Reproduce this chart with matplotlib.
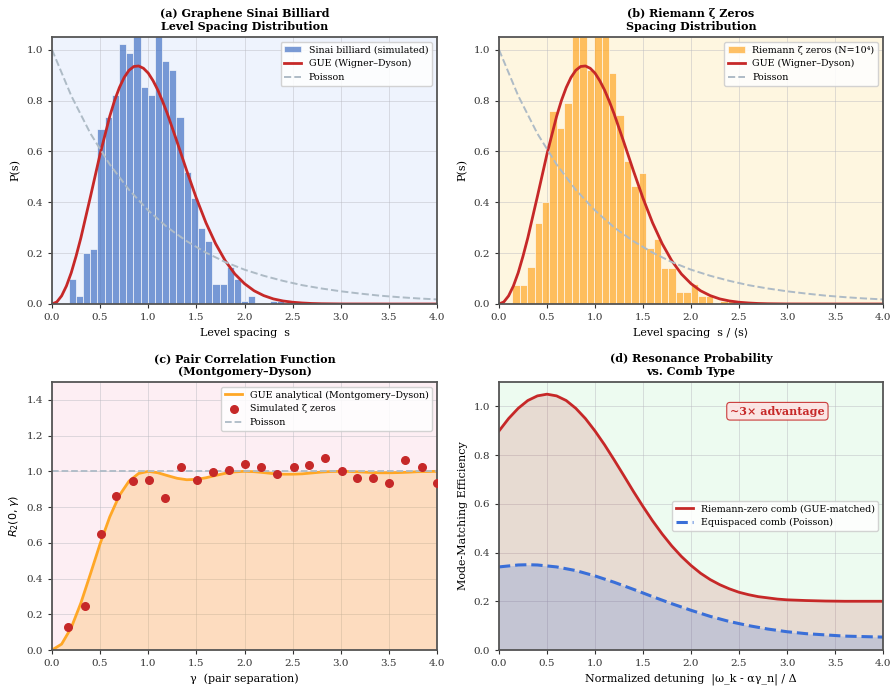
import numpy as np
import matplotlib
matplotlib.use("Agg")
import matplotlib.pyplot as plt

plt.rcParams['font.family'] = 'serif'
plt.rcParams['font.serif'] = ['DejaVu Serif']
plt.rcParams['mathtext.fontset'] = 'dejavusans'

# ---- (a) Sinai billiard histogram (density) ----
a_bin_start = 0.174
a_bin_width = 0.0746
a_heights = [0.10, 0.03, 0.20, 0.216, 0.688, 0.737, 0.82, 1.022, 0.988, 1.10,
             0.853, 0.82, 1.10, 0.954, 0.921, 0.737, 0.52, 0.416, 0.30, 0.249,
             0.08, 0.08, 0.145, 0.098, 0.013, 0.031, 0.0, 0.0, 0.011, 0.011]

# ---- (b) Riemann zeros histogram (density) ----
b_bin_start = 0.139
b_bin_width = 0.0774
b_heights = [0.076, 0.076, 0.144, 0.32, 0.40, 0.758, 0.693, 0.79, 1.10, 1.10,
             0.92, 1.10, 1.10, 0.907, 0.742, 0.563, 0.466, 0.514, 0.222, 0.255,
             0.143, 0.143, 0.046, 0.046, 0.079, 0.03, 0.03, 0.0, 0.011, 0.011]

# GUE Wigner-Dyson curve
gue_s = [0.0, 0.05, 0.1, 0.15, 0.2, 0.25, 0.3, 0.4, 0.5, 0.6, 0.65, 0.7, 0.75, 0.8,
         0.85, 0.9, 0.95, 1.0, 1.05, 1.1, 1.15, 1.2, 1.3, 1.4, 1.5, 1.6, 1.7, 1.8,
         1.9, 2.0, 2.1, 2.2, 2.3, 2.4, 2.5, 2.6, 2.7, 2.8, 3.0, 3.5, 4.0]
gue_p = [0.0, 0.008, 0.032, 0.071, 0.123, 0.188, 0.260, 0.423, 0.590, 0.738, 0.800,
         0.851, 0.891, 0.919, 0.934, 0.936, 0.927, 0.908, 0.878, 0.841, 0.796,
         0.747, 0.637, 0.524, 0.416, 0.319, 0.237, 0.170, 0.118, 0.080, 0.052,
         0.033, 0.020, 0.012, 0.007, 0.004, 0.002, 0.001, 0.0002, 0.0, 0.0]

# Poisson curve
poi_s = [0.0, 0.2, 0.4, 0.6, 0.8, 1.0, 1.2, 1.4, 1.6, 1.8, 2.0, 2.2, 2.4, 2.6,
         2.8, 3.0, 3.2, 3.4, 3.6, 3.8, 4.0]
poi_p = [1.0, 0.819, 0.670, 0.549, 0.449, 0.368, 0.301, 0.247, 0.202, 0.165,
         0.135, 0.111, 0.091, 0.074, 0.061, 0.050, 0.041, 0.033, 0.027, 0.022, 0.018]

# ---- (c) pair correlation ----
r2_x = [0.0, 0.1, 0.2, 0.3, 0.4, 0.5, 0.6, 0.7, 0.8, 0.9, 1.0, 1.1, 1.2, 1.3,
        1.4, 1.5, 1.6, 1.7, 1.8, 1.9, 2.0, 2.1, 2.2, 2.3, 2.4, 2.5, 2.6, 2.7,
        2.8, 2.9, 3.0, 3.1, 3.2, 3.3, 3.4, 3.5, 3.6, 3.7, 3.8, 3.9, 4.0]
r2_y = [0.0, 0.033, 0.125, 0.263, 0.427, 0.595, 0.745, 0.865, 0.945, 0.988,
        1.0, 0.992, 0.976, 0.961, 0.953, 0.955, 0.964, 0.977, 0.989, 0.997,
        1.0, 0.998, 0.993, 0.987, 0.984, 0.984, 0.986, 0.991, 0.996, 0.999,
        1.0, 0.999, 0.997, 0.994, 0.992, 0.992, 0.993, 0.995, 0.998, 0.999, 1.0]
zeta_x = [0.17, 0.34, 0.51, 0.67, 0.84, 1.01, 1.17, 1.34, 1.51, 1.67, 1.84, 2.01,
          2.17, 2.34, 2.51, 2.67, 2.84, 3.01, 3.17, 3.34, 3.50, 3.67, 3.84, 4.00]
zeta_y = [0.127, 0.246, 0.648, 0.864, 0.946, 0.950, 0.853, 1.023, 0.954, 0.999,
          1.010, 1.040, 1.025, 0.984, 1.023, 1.038, 1.077, 1.002, 0.965, 0.963,
          0.933, 1.064, 1.023, 0.935]

# ---- (d) mode-matching efficiency ----
det_x = [0.0, 0.1, 0.2, 0.3, 0.4, 0.5, 0.6, 0.7, 0.8, 0.9, 1.0, 1.1, 1.2, 1.3,
         1.4, 1.5, 1.6, 1.7, 1.8, 1.9, 2.0, 2.1, 2.2, 2.3, 2.4, 2.5, 2.6, 2.7,
         2.8, 2.9, 3.0, 3.2, 3.4, 3.6, 3.8, 4.0]
riemann_eff = [0.899, 0.950, 0.992, 1.024, 1.043, 1.050, 1.043, 1.024, 0.992, 0.950,
               0.899, 0.842, 0.780, 0.716, 0.651, 0.589, 0.530, 0.476, 0.427, 0.384,
               0.347, 0.315, 0.289, 0.268, 0.251, 0.237, 0.227, 0.219, 0.214, 0.209,
               0.206, 0.203, 0.201, 0.200, 0.200, 0.200]
eq_x = [0.0, 0.2, 0.3, 0.4, 0.6, 0.8, 1.0, 1.2, 1.4, 1.6, 1.8, 2.0, 2.2, 2.4,
        2.6, 2.8, 3.0, 3.2, 3.4, 3.6, 3.8, 4.0]
equi_eff = [0.341, 0.349, 0.350, 0.349, 0.341, 0.326, 0.304, 0.278, 0.249, 0.219,
            0.190, 0.163, 0.138, 0.117, 0.100, 0.086, 0.075, 0.067, 0.062, 0.057,
            0.055, 0.053]

RED = '#c62828'
POIS = '#aebbc6'

fig = plt.figure(figsize=(8.9, 6.91), dpi=100)
W, H = 890.0, 691.0
def rect(l, r, t, b):
    return [l / W, 1 - b / H, (r - l) / W, (b - t) / H]

axA = fig.add_axes(rect(52, 437, 37, 304))
axB = fig.add_axes(rect(499, 883, 37, 304))
axC = fig.add_axes(rect(52, 437, 382, 650))
axD = fig.add_axes(rect(499, 883, 382, 650))

def style(ax, bg):
    ax.set_facecolor(bg)
    ax.grid(True, color='#b8b8c0', alpha=0.45, linewidth=0.7)
    ax.set_axisbelow(True)
    for sp in ax.spines.values():
        sp.set_color('#555555')
        sp.set_linewidth(1.3)
    ax.tick_params(labelsize=7.5, colors='#333333', length=3, width=0.8)
    ax.set_xlim(0, 4)
    ax.set_xticks([0, 0.5, 1, 1.5, 2, 2.5, 3, 3.5, 4])

leg_kw = dict(fontsize=6.8, framealpha=0.85, edgecolor='#cccccc', fancybox=True,
              handlelength=1.8)
lab_fs = 8

# (a)
style(axA, '#eef3fd')
edges = a_bin_start + a_bin_width * np.arange(len(a_heights))
hb = axA.bar(edges, a_heights, width=a_bin_width, align='edge', color='#4472c4', alpha=0.7,
             edgecolor='white', linewidth=0.6, label='Sinai billiard (simulated)')
hg, = axA.plot(gue_s, gue_p, color=RED, lw=2.0, label='GUE (Wigner\u2013Dyson)')
hp, = axA.plot(poi_s, poi_p, color=POIS, lw=1.4, ls='--', label='Poisson')
axA.set_ylim(0, 1.05)
axA.set_xlabel('Level spacing  s', fontsize=lab_fs)
axA.set_ylabel('P(s)', fontsize=lab_fs)
axA.set_title('(a) Graphene Sinai Billiard\nLevel Spacing Distribution',
              fontsize=8, fontweight='bold', pad=5)
axA.legend(handles=[hb, hg, hp], loc='upper right', **leg_kw)

# (b)
style(axB, '#fef6e0')
edges = b_bin_start + b_bin_width * np.arange(len(b_heights))
hb = axB.bar(edges, b_heights, width=b_bin_width, align='edge', color='#ffa726', alpha=0.7,
             edgecolor='white', linewidth=0.6, label='Riemann \u03b6 zeros (N=10\u2074)')
hg, = axB.plot(gue_s, gue_p, color=RED, lw=2.0, label='GUE (Wigner\u2013Dyson)')
hp, = axB.plot(poi_s, poi_p, color=POIS, lw=1.4, ls='--', label='Poisson')
axB.set_ylim(0, 1.05)
axB.set_xlabel('Level spacing  s / \u27e8s\u27e9', fontsize=lab_fs)
axB.set_ylabel('P(s)', fontsize=lab_fs)
axB.set_title('(b) Riemann \u03b6 Zeros\nSpacing Distribution',
              fontsize=8, fontweight='bold', pad=5)
axB.legend(handles=[hb, hg, hp], loc='upper right', **leg_kw)

# (c)
style(axC, '#fdeef3')
axC.fill_between(r2_x, r2_y, 0, color='#ffa726', alpha=0.25, lw=0)
axC.plot(r2_x, r2_y, color='#ffa726', lw=2.0, label='GUE analytical (Montgomery\u2013Dyson)')
axC.scatter(zeta_x, zeta_y, s=30, color=RED, zorder=5, label='Simulated \u03b6 zeros')
axC.axhline(1.0, color=POIS, lw=1.3, ls='--', label='Poisson')
axC.set_ylim(0, 1.5)
axC.set_yticks([0, 0.2, 0.4, 0.6, 0.8, 1.0, 1.2, 1.4])
axC.set_xlabel('\u03b3  (pair separation)', fontsize=lab_fs)
axC.set_ylabel(r'$R_2(0,\gamma)$', fontsize=lab_fs)
axC.set_title('(c) Pair Correlation Function\n(Montgomery\u2013Dyson)',
              fontsize=8, fontweight='bold', pad=5)
axC.legend(loc='upper right', **leg_kw)

# (d)
style(axD, '#edfbf0')
axD.fill_between(det_x, riemann_eff, 0, color=RED, alpha=0.15, lw=0)
axD.fill_between(eq_x, equi_eff, 0, color='#3a6fd8', alpha=0.2, lw=0)
axD.plot(det_x, riemann_eff, color=RED, lw=2.0, label='Riemann-zero comb (GUE-matched)')
axD.plot(eq_x, equi_eff, color='#3a6fd8', lw=2.2, ls='--', label='Equispaced comb (Poisson)')
axD.set_ylim(0, 1.1)
axD.set_yticks([0, 0.2, 0.4, 0.6, 0.8, 1.0])
axD.set_xlabel('Normalized detuning  |\u03c9_k - \u03b1\u03b3_n| / \u0394', fontsize=lab_fs)
axD.set_ylabel('Mode-Matching Efficiency', fontsize=lab_fs)
axD.set_title('(d) Resonance Probability\nvs. Comb Type',
              fontsize=8, fontweight='bold', pad=5)
axD.legend(loc='center right', bbox_to_anchor=(1.0, 0.5), **leg_kw)
axD.text(2.9, 0.98, '~3\u00d7 advantage', color=RED, fontsize=8, fontweight='bold',
         ha='center', va='center',
         bbox=dict(boxstyle='round,pad=0.3', facecolor='#fde3e3', edgecolor=RED,
                   linewidth=0.8, alpha=0.9))

plt.savefig('out.png', dpi=100)
